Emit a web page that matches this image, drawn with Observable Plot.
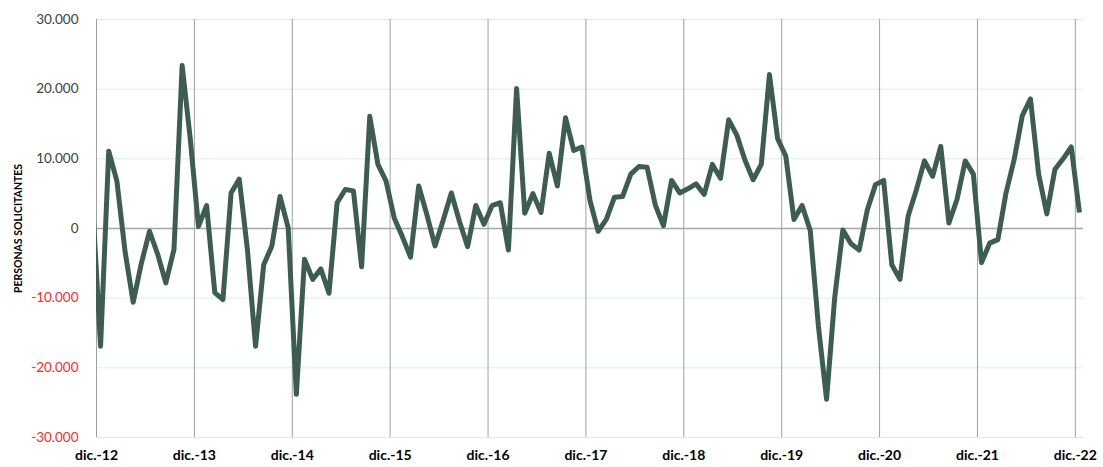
<!DOCTYPE html>
<html>
<head>
<meta charset="utf-8">
<script src="https://cdn.jsdelivr.net/npm/d3@7"></script>
<script src="https://cdn.jsdelivr.net/npm/@observablehq/plot@0.6"></script>
<style>
  html, body { margin: 0; padding: 0; background: #fff; }
  #chart svg { display: block; }
</style>
</head>
<body>
<div id="chart"></div>
<script>
// Year labels shown on the x axis (one every 12 months, December of each year)
const yearLabels = ["dic.-12","dic.-13","dic.-14","dic.-15","dic.-16","dic.-17","dic.-18","dic.-19","dic.-20","dic.-21","dic.-22"];

// Monthly values, dic.-12 ... dic.-22 (121 months)
const values = [
  -16900, 11100, 6800, -3300, -10600, -5000, -400, -3700, -7800, -3000, 23400, 12800,
  300, 3300, -9200, -10200, 5100, 7100, -3000, -16900, -5200, -2500, 4600, 100,
  -23800, -4400, -7300, -5800, -9300, 3700, 5600, 5400, -5500, 16100, 9200, 6800,
  1500, -1200, -4100, 6100, 2000, -2500, 1200, 5100, 1000, -2600, 3300, 600,
  3300, 3700, -3100, 20100, 2200, 5000, 2300, 10800, 6100, 15900, 11200, 11700,
  4000, -400, 1300, 4500, 4600, 7800, 8900, 8800, 3400, 400, 6900, 5100,
  5700, 6400, 4900, 9200, 7200, 15600, 13400, 9800, 7000, 9200, 22100, 12900,
  10400, 1300, 3300, -300, -14000, -24500, -9900, -200, -2200, -3100, 2700, 6300,
  6900, -5200, -7300, 1800, 5500, 9700, 7500, 11800, 800, 4200, 9700, 7800,
  -4900, -2100, -1600, 5100, 9900, 16200, 18600, 7800, 2100, 8500, 10000, 11700,
  2300
];
// Month before the first shown one (nov.-12); its segment is clipped at the left edge
const priorValue = 4000;

const yTicks = [-30000, -20000, -10000, 0, 10000, 20000, 30000];
const yTitle = "PERSONAS SOLICITANTES";

// ---- build table ----
const data = [{i: -1, v: priorValue}, ...values.map((v, i) => ({i, v}))];
const yearTicks = yearLabels.map((_, k) => k * 12 - 0.5);

const locale = d3.formatLocale({decimal: ",", thousands: ".", grouping: [3], currency: ["", "€"], minus: "-"});
const fmt = locale.format(",d");

const font = "Lato, 'Open Sans', sans-serif";

const chart = Plot.plot({
  width: 1103,
  height: 467,
  marginLeft: 96,
  marginRight: 20,
  marginTop: 19,
  marginBottom: 30,
  style: {fontFamily: font, background: "#fff"},
  x: {domain: [-0.5, 120.5], axis: null},
  y: {domain: [-30000, 30000], axis: null},
  marks: [
    Plot.ruleY(yTicks.filter(d => d !== 0), {stroke: "#d9ecf2", strokeWidth: 1}),
    Plot.ruleX(yearTicks, {stroke: "#a0a0a0", strokeWidth: 1}),
    Plot.ruleY([0], {stroke: "#a6a6a6", strokeWidth: 1.3}),
    Plot.line(data, {x: "i", y: "v", stroke: "#3e5d51", strokeWidth: 5, strokeLinejoin: "round", strokeLinecap: "butt", clip: true}),
    Plot.axisY(yTicks.filter(d => d >= 0), {tickSize: 0, tickPadding: 18, tickFormat: fmt, fill: "#404040", fontSize: 13.5, label: null}),
    Plot.axisY(yTicks.filter(d => d < 0), {tickSize: 0, tickPadding: 18, tickFormat: fmt, fill: "#ff2a2a", fontSize: 13.5, label: null}),
    Plot.axisX(yearTicks, {tickSize: 0, tickPadding: 13, tickFormat: (d) => yearLabels[Math.round((d + 0.5) / 12)], fill: "#000", fontWeight: "bold", fontSize: 14, label: null}),
    Plot.text([yTitle], {frameAnchor: "left", textAnchor: "middle", rotate: -90, dx: -78, fontWeight: "bold", fontSize: 10.5, fill: "#000", text: d => d})
  ]
});
document.getElementById("chart").appendChild(chart);
</script>
</body>
</html>
